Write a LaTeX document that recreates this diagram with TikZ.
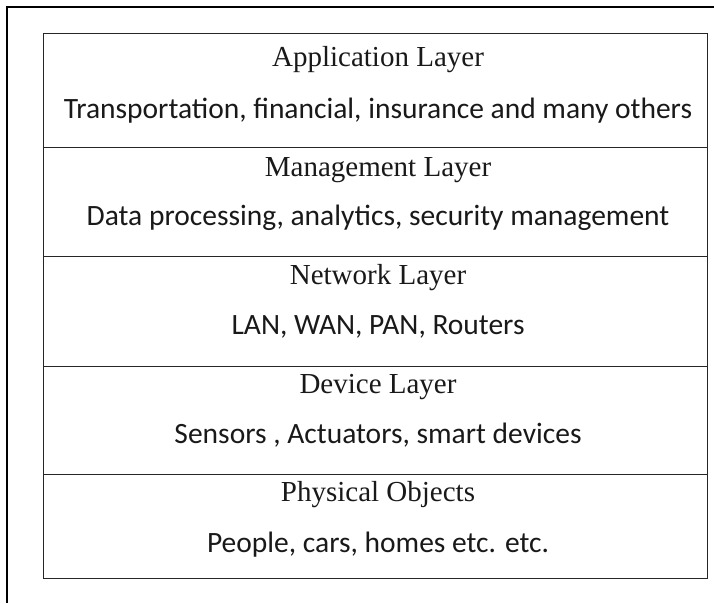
\documentclass[tikz,border=0pt]{standalone}
\usepackage{fontspec}
\setmainfont{Liberation Serif}
\newfontfamily\bodyfont{Carlito}
\begin{document}
\begin{tikzpicture}[x=1pt,y=-1pt,
  frame/.style={line width=2.2pt,black},
  layerbox/.style={draw=black!85,line width=1.3pt,minimum width=664pt,anchor=north west,inner sep=0pt},
  title/.style={anchor=base,inner sep=0pt,text=black!90,font=\fontsize{29}{33}\selectfont},
  sub/.style={anchor=base,inner sep=0pt,text=black!90,font=\bodyfont\fontsize{29.5}{34}\selectfont}]
\useasboundingbox (0,0) rectangle (714,603);
\fill[white] (0,0) rectangle (714,603);
\coordinate (ftop) at (714,7);
\coordinate (fcorner) at (7,7);
\coordinate (fbot) at (7,603);
\draw[frame] (ftop) -- (fcorner) -- (fbot);
\node[layerbox,minimum height=114pt] (l1) at (43,33) {};
\node[layerbox,minimum height=109pt] (l2) at (43,147) {};
\node[layerbox,minimum height=110pt] (l3) at (43,256) {};
\node[layerbox,minimum height=108pt] (l4) at (43,366) {};
\node[layerbox,minimum height=104pt] (l5) at (43,474) {};
\node[title] (t1) at (378,66) {Application Layer};
\node[sub] (s1) at (378,118) {Transportation, financial, insurance and many others};
\node[title] (t2) at (378,176) {Management Layer};
\node[sub] (s2) at (378,225) {Data processing, analytics, security management};
\node[title] (t3) at (378,284) {Network Layer};
\node[sub] (s3) at (378,334) {LAN, WAN, PAN, Routers};
\node[title] (t4) at (378,393) {Device Layer};
\node[sub] (s4) at (378,443) {Sensors , Actuators, smart devices};
\node[title] (t5) at (378,501) {Physical Objects};
\node[sub] (s5) at (378,552) {People, cars, homes etc. etc.};
\end{tikzpicture}
\end{document}
